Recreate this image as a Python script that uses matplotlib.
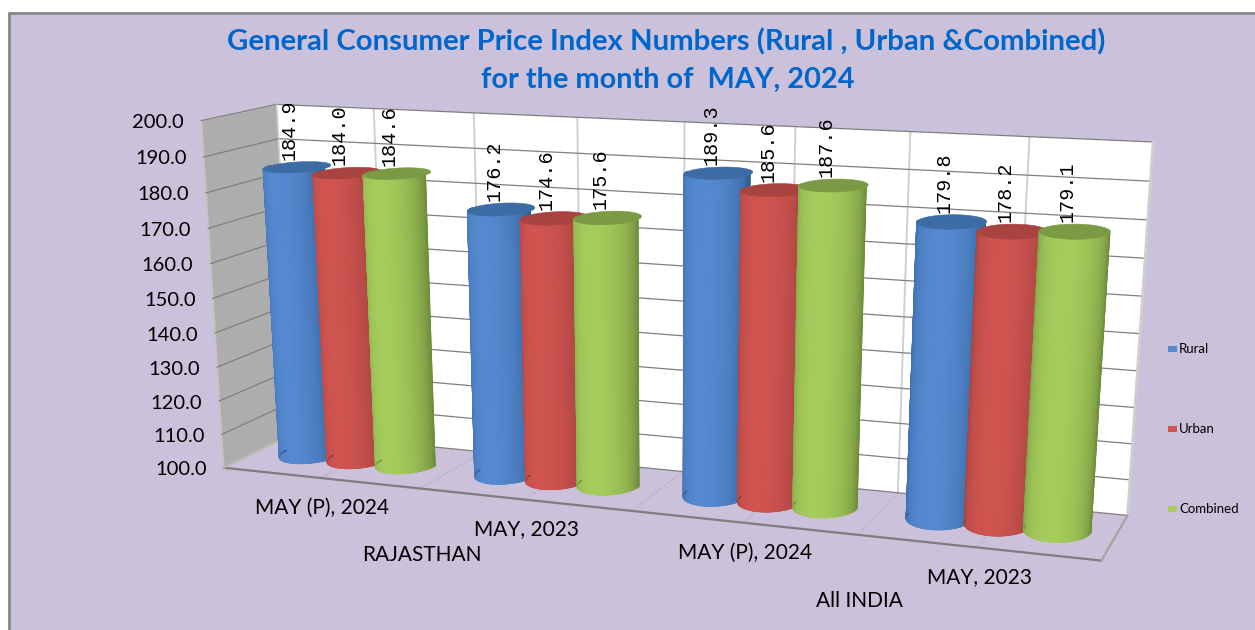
import matplotlib
matplotlib.use("Agg")
import matplotlib.pyplot as plt
from matplotlib.patches import Rectangle
import numpy as np

periods = ["MAY (P), 2024", "MAY, 2023", "MAY (P), 2024", "MAY, 2023"]
regions = ["RAJASTHAN", "All INDIA"]
series = ["Rural", "Urban", "Combined"]
rural = [184.9, 176.2, 189.3, 179.8]
urban = [184.0, 174.6, 185.6, 178.2]
combined = [184.6, 175.6, 187.6, 179.1]
y_ticks = [100, 110, 120, 130, 140, 150, 160, 170, 180, 190, 200]

title1 = "General Consumer Price Index Numbers (Rural , Urban &Combined)"
title2 = "for the month of  MAY, 2024"

# dark, bright and top colours of each cylinder
colours = [("#2c5a90", "#5589d0", "#3d6ba3"),
           ("#8d3a38", "#d05450", "#a8433f"),
           ("#6c8a3a", "#a6cc5c", "#7a9a46")]
bg = "#ccc1da"

# where the corners of the 3d box sit in the picture: (u, value, depth) -> pixel
box = [((0, 100, 0), (225, 468)), ((1, 100, 0), (1101, 561)),
       ((0, 100, 1), (293, 433)), ((1, 100, 1), (1128, 515)),
       ((0, 200, 0), (200, 120)), ((0, 200, 1), (278, 105)),
       ((1, 200, 1), (1153, 142))]

rows = []
for (u, val, d), (px, py) in box:
    X = [u, (val - 100) / 100, d, 1]
    rows.append(X + [0, 0, 0, 0] + [-px * c for c in X])
    rows.append([0, 0, 0, 0] + X + [-py * c for c in X])
P = np.linalg.svd(np.array(rows, dtype=float))[2][-1].reshape(3, 4)


def proj(u, val, d):
    u, val, d = np.broadcast_arrays(u, val, d)
    X = np.stack([u, (val - 100) / 100, d, np.ones(u.shape)])
    a = P @ X
    return a[0] / a[2], a[1] / a[2]


fig = plt.figure(figsize=(12.55, 6.3), dpi=100, facecolor="white")
ax = fig.add_axes([0, 0, 1, 1])
ax.set_xlim(0, 1255)
ax.set_ylim(630, 0)
ax.axis("off")
ax.add_patch(Rectangle((8.5, 12.5), 1300, 700, fc=bg, ec="#868686", lw=2))


def wall(pts, **kw):
    xs, ys = proj(*np.array(pts, dtype=float).T)
    ax.fill(xs, ys, **kw)


def seg(a, b, **kw):
    xs, ys = proj(*np.array([a, b], dtype=float).T)
    ax.plot(xs, ys, solid_capstyle="round", **kw)


wall([(0, 100, 0), (0, 100, 1), (0, 200, 1), (0, 200, 0)], fc="#adadad", ec="#c4c4c4", lw=1.5)
wall([(0, 100, 1), (1, 100, 1), (1, 200, 1), (0, 200, 1)], fc="white", ec="none")

for i in range(1, 8):
    seg((i / 8, 100, 1), (i / 8, 200, 1), color="#cfcfcf", lw=1.4)
    seg((i / 8, 100, 0), (i / 8, 100, 1), color="#bdb6c6", lw=1.2, ls=(0, (2, 1)))
for t in y_ticks:
    seg((0, t, 0), (0, t, 1), color="#7f7f7f", lw=0.9)
    seg((0, t, 1), (1, t, 1), color="#7f7f7f", lw=0.9)
    x0, y0 = proj(0, t, 0)
    ax.text(x0 - 17, y0 + 2, f"{t:.1f}", ha="right", va="center", family="Lato",
            fontsize=14.5, color="black")
seg((1, 100, 1), (1, 200, 1), color="#cfcfcf", lw=2)
seg((0, 100, 1), (0, 200, 1), color="#d0d0d0", lw=1)
seg((0, 100, 0), (1, 100, 0), color="#7d7d7d", lw=1.6)
seg((1, 100, 0), (1, 100, 1), color="#a5a5a5", lw=1.6)
seg((0, 100, 0), (0, 100, 1), color="#bdbdbd", lw=1.2)

# cylinders
bar_u = 0.0625
radius_u = 0.0345
radius_d = 0.28
mid_d = 0.55
tops = []
for g, values in enumerate(zip(rural, urban, combined)):
    for s, val in enumerate(values):
        cu = (g + 0.5) / 4 + (s - 1) * bar_u + 0.002
        dark, bright, top = [np.array(matplotlib.colors.to_rgb(c)) for c in colours[s]]
        th = np.linspace(np.pi, np.pi * 2, 41)
        us = cu + radius_u * np.cos(th)
        ds = mid_d + radius_d * np.sin(th)
        xb, yb = proj(us, 100, ds)
        xt, yt = proj(us, val, ds)
        shade = np.abs(np.sin(th))[:, None] ** 0.75
        rgb = dark + (bright - dark) * shade
        # smooth shading across the round side
        ax.fill(np.r_[xb, xt[::-1]], np.r_[yb, yt[::-1]], fc=dark, ec=dark, lw=0.6, zorder=5)
        mesh_rgb = np.stack([rgb, rgb])
        ax.pcolormesh(np.stack([xb, xt]), np.stack([yb, yt]), mesh_rgb, shading="gouraud", zorder=5)
        for k in range(len(th) - 1):
            ax.plot(xb[k:k + 2], yb[k:k + 2], color=rgb[k], lw=1, zorder=5)
        th2 = np.linspace(0, 2 * np.pi, 73)
        xe, ye = proj(cu + radius_u * np.cos(th2), val, mid_d + radius_d * np.sin(th2))
        ax.fill(xe, ye, fc=top, ec=top, lw=0.4, zorder=5)
        tops.append((xe.mean(), ye.min(), val))

for xc, ytop, val in tops:
    ax.text(xc - 8, ytop - 2, f"{val:.1f}", rotation=90, ha="center", va="bottom",
            family="Liberation Mono", fontsize=14.5, color="black", zorder=6)

# category labels follow the front edge of the floor
for g, name in enumerate(periods):
    x0, y0 = proj((g + 0.5) / 4, 100, 0)
    ax.text(x0 + 2, y0 + 30, name, ha="center", va="center", family="Lato",
            fontsize=15, color="black")
for g, name in enumerate(regions):
    x0, y0 = proj((2 * g + 1) / 4, 100, 0)
    ax.text(x0 + 1, y0 + 66, name, ha="center", va="center", family="Lato",
            fontsize=15, color="black")

ax.text(666, 42, title1, ha="center", va="center", family="Lato", weight="bold",
        fontsize=21.2, color="#0066cc")
ax.text(668, 80, title2, ha="center", va="center", family="Lato", weight="bold",
        fontsize=20.8, color="#0066cc")

# legend
for s, name in enumerate(series):
    y = 349 + 80 * s
    ax.add_patch(Rectangle((1168, y - 3), 9, 6, fc=colours[s][1], ec="none"))
    ax.text(1179, y, name, ha="left", va="center", family="Lato", fontsize=9.5, color="black")

fig.savefig("out.png", dpi=100)
